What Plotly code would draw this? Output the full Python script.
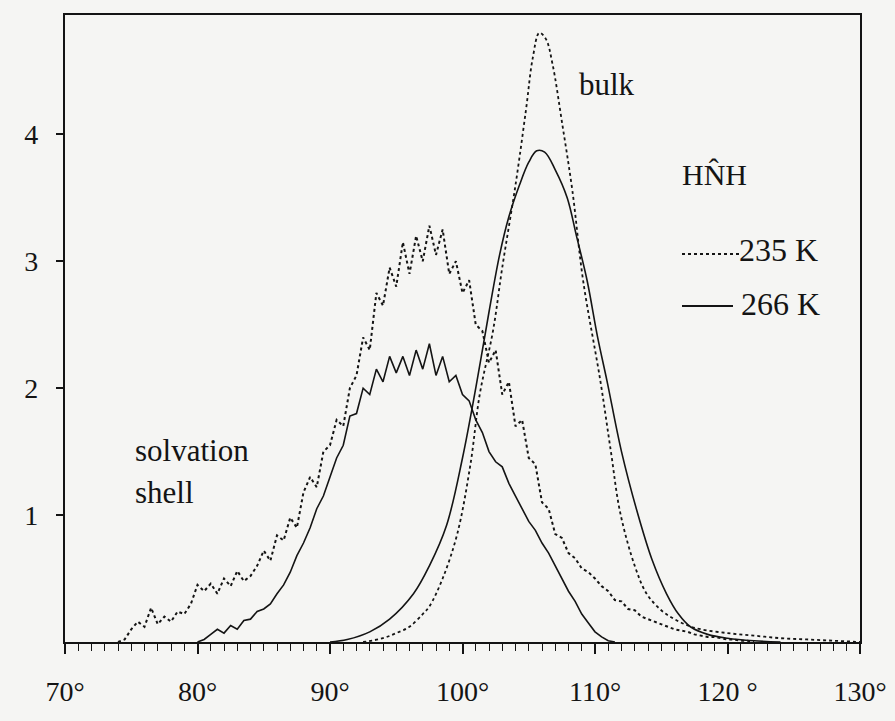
import plotly.graph_objects as go

# ---- data ----
s1_start, s1_step = 74.0, 0.5
s1_vals = [0, 0.02, 0.1, 0.16, 0.12, 0.27, 0.14, 0.2, 0.16, 0.24, 0.22, 0.3,
           0.45, 0.4, 0.46, 0.38, 0.5, 0.44, 0.56, 0.48, 0.52, 0.6, 0.72, 0.64,
           0.84, 0.8, 0.98, 0.9, 1.18, 1.3, 1.22, 1.5, 1.55, 1.75, 1.7, 2.0,
           2.1, 2.4, 2.3, 2.75, 2.65, 2.95, 2.8, 3.15, 2.9, 3.2, 3.0, 3.28,
           3.05, 3.25, 2.9, 3.0, 2.75, 2.85, 2.5, 2.45, 2.2, 2.3, 1.95, 2.05,
           1.7, 1.75, 1.45, 1.4, 1.1, 1.05, 0.85, 0.82, 0.7, 0.66, 0.58, 0.55,
           0.5, 0.44, 0.4, 0.33, 0.32, 0.26, 0.25, 0.2, 0.18, 0.16, 0.14, 0.12,
           0.1, 0.09, 0.08, 0.06, 0.05, 0.04, 0.04, 0.03, 0.02, 0.02, 0.01, 0.01, 0.0]
s1_x = [s1_start + i * s1_step for i in range(len(s1_vals))]

s2_start, s2_step = 80.0, 0.5
s2_vals = [0, 0.02, 0.06, 0.1, 0.07, 0.13, 0.1, 0.17, 0.18, 0.24, 0.26, 0.3,
           0.38, 0.45, 0.55, 0.68, 0.78, 0.9, 1.05, 1.15, 1.3, 1.45, 1.55, 1.78,
           1.8, 2.0, 1.95, 2.15, 2.05, 2.25, 2.12, 2.25, 2.1, 2.3, 2.15, 2.35,
           2.1, 2.25, 2.05, 2.1, 1.95, 1.9, 1.75, 1.65, 1.5, 1.42, 1.38, 1.25,
           1.15, 1.05, 0.95, 0.88, 0.78, 0.7, 0.6, 0.5, 0.4, 0.32, 0.22, 0.15,
           0.08, 0.04, 0.01, 0]
s2_x = [s2_start + i * s2_step for i in range(len(s2_vals))]

b235_x = [92.5, 94, 95, 96, 97, 97.5, 98.5, 99.6, 100.6, 101.3, 102.3, 103, 104,
          104.8, 105.3, 105.8, 106.3, 106.8, 107.5, 108.3, 109.1, 110.4, 111.2,
          111.9, 113, 113.9, 115, 116, 117, 118, 120, 122, 124, 126, 128, 130]
b235_y = [0, 0.03, 0.07, 0.12, 0.22, 0.28, 0.5, 0.85, 1.4, 1.95, 2.45, 2.95, 3.6,
          4.2, 4.6, 4.8, 4.75, 4.55, 4.1, 3.55, 2.85, 2.06, 1.5, 1.02, 0.6, 0.38,
          0.25, 0.18, 0.13, 0.1, 0.07, 0.05, 0.03, 0.02, 0.01, 0]

b266_x = [90, 91.3, 93, 94.5, 96.3, 97.5, 98.8, 100, 101, 102, 102.8, 103.5, 104.3,
          105, 105.6, 106.2, 107, 107.9, 108.6, 109.4, 110.2, 110.9, 112, 113.2,
          114.3, 115.4, 116.3, 117.2, 118.5, 120, 122, 124]
b266_y = [0, 0.02, 0.08, 0.18, 0.38, 0.6, 0.92, 1.45, 2.0, 2.6, 3.05, 3.35, 3.6,
          3.78, 3.87, 3.86, 3.72, 3.5, 3.2, 2.85, 2.4, 2.06, 1.5, 1.02, 0.65, 0.38,
          0.22, 0.12, 0.06, 0.03, 0.01, 0]

x_ticks = [70, 80, 90, 100, 110, 120, 130]
x_labels = ["70°", "80°", "90°", "100°", "110°", "120 °", "130°"]
y_ticks = [1, 2, 3, 4]
y_labels = ["1", "2", "3", "4"]

FONT = "Liberation Serif"
INK = "#141414"

fig = go.Figure()
fig.add_trace(go.Scatter(x=s1_x, y=s1_vals, mode="lines",
                         line=dict(color=INK, width=2, dash="dot")))
fig.add_trace(go.Scatter(x=s2_x, y=s2_vals, mode="lines",
                         line=dict(color=INK, width=1.6)))
fig.add_trace(go.Scatter(x=b235_x, y=b235_y, mode="lines", line_shape="spline",
                         line=dict(color=INK, width=1.8, dash="dot")))
fig.add_trace(go.Scatter(x=b266_x, y=b266_y, mode="lines", line_shape="spline",
                         line=dict(color=INK, width=1.6)))

L, R, T, B = 65, 860, 15, 642

def px_to_paper(px, py):
    return (px - L) / (R - L), (B - py) / (B - T)

annots = []
def txt(text, px, py, size=31, xanchor="left"):
    x, y = px_to_paper(px, py)
    annots.append(dict(text=text, x=x, y=y, xref="paper", yref="paper",
                       showarrow=False, xanchor=xanchor, yanchor="middle",
                       font=dict(family=FONT, size=size, color=INK)))

txt("bulk", 577, 84, 31)
txt("HN\u0302H", 680, 174, 30)
txt("235 K", 737, 250, 32)
txt("266 K", 739, 304, 32)
txt("solvation", 133, 450, 31)
txt("shell", 133, 492, 31)

shapes = []
x0, y0 = px_to_paper(682, 254)
x1, _ = px_to_paper(740, 254)
shapes.append(dict(type="line", xref="paper", yref="paper", x0=x0, x1=x1, y0=y0, y1=y0,
                   line=dict(color=INK, width=2.2, dash="dot")))
x0, y0 = px_to_paper(682, 306)
x1, _ = px_to_paper(733, 306)
shapes.append(dict(type="line", xref="paper", yref="paper", x0=x0, x1=x1, y0=y0, y1=y0,
                   line=dict(color=INK, width=2.2)))

fig.update_layout(
    width=895, height=721,
    margin=dict(l=L, r=895 - R, t=T, b=721 - B, autoexpand=False),
    paper_bgcolor="#f5f5f3", plot_bgcolor="#f5f5f3",
    showlegend=False,
    annotations=annots, shapes=shapes,
    font=dict(family=FONT, color=INK),
)
fig.update_xaxes(range=[70, 130], showgrid=False, zeroline=False, automargin=False,
                 showline=True, linecolor=INK, linewidth=2.2, mirror=True,
                 tickmode="array", tickvals=x_ticks, ticktext=x_labels,
                 ticks="outside", ticklen=10, tickwidth=1.6, tickcolor=INK,
                 ticklabelstandoff=13,
                 minor=dict(dtick=1, ticks="outside", ticklen=7, tickwidth=1.4, tickcolor=INK),
                 tickfont=dict(family=FONT, size=28, color=INK))
fig.update_yaxes(range=[0, 4.94], showgrid=False, zeroline=False, automargin=False,
                 showline=True, linecolor=INK, linewidth=2.2, mirror=True,
                 tickmode="array", tickvals=y_ticks, ticktext=y_labels,
                 ticks="outside", ticklen=7, tickwidth=1.6, tickcolor=INK,
                 ticklabelstandoff=12,
                 tickfont=dict(family=FONT, size=28, color=INK))

fig.write_html("out.html",
               config={"displayModeBar": False},
               post_script="document.body.style.margin='0px';"
                           "document.body.style.background='#f5f5f3';")
